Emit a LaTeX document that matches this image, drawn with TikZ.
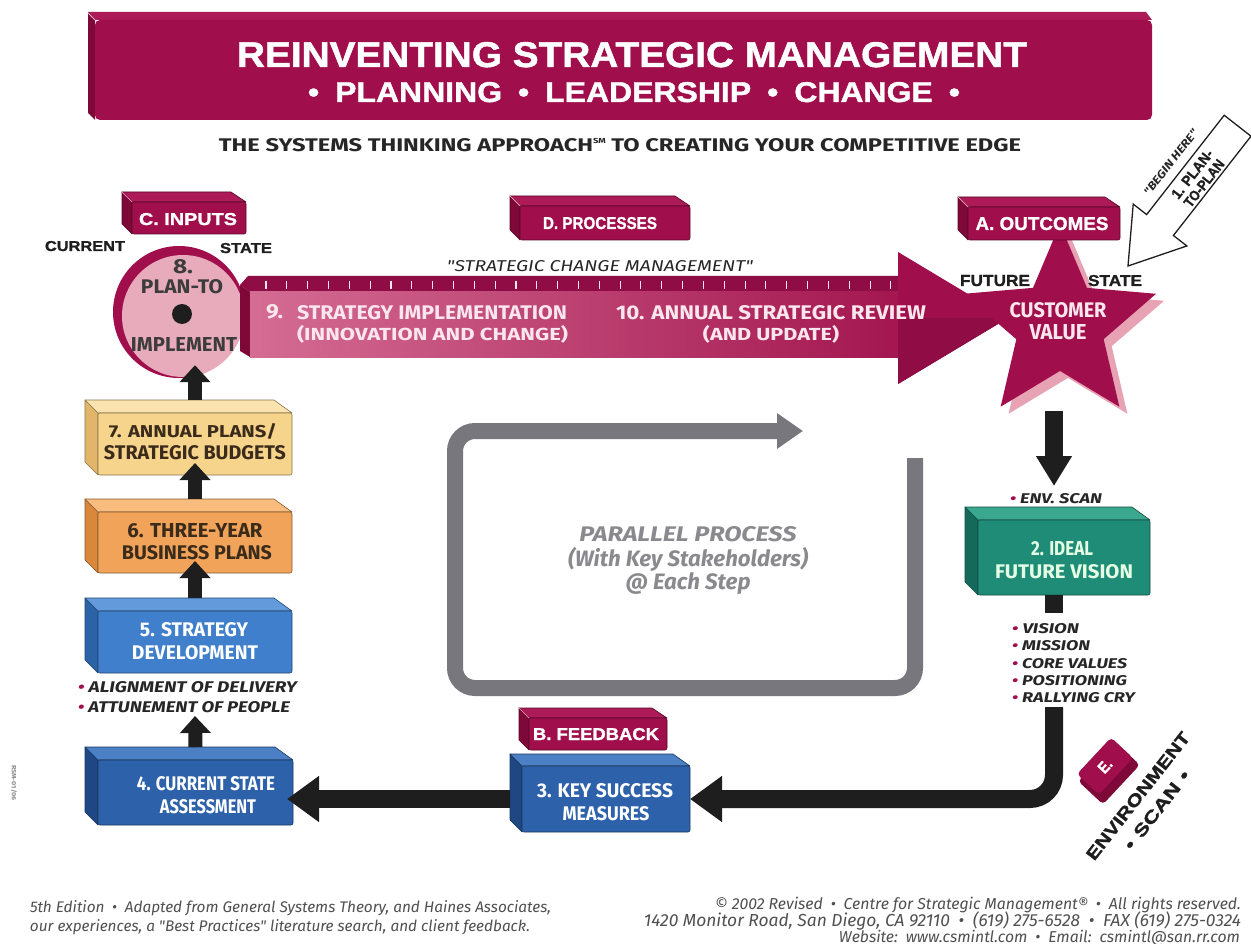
\documentclass[tikz,border=0pt]{standalone}
\usepackage{graphicx}
\usepackage{fontspec}
\setmainfont{Fira Sans}
\newfontfamily\hv{Liberation Sans}[BoldFeatures={FakeBold=1.2}]
\newfontfamily\fira{Fira Sans}
\usetikzlibrary{shapes.geometric,arrows.meta,calc}
\definecolor{mar}{HTML}{A00F4B}
\definecolor{marT}{HTML}{AC1A57}
\definecolor{marD}{HTML}{7E0838}
\definecolor{marS}{HTML}{900C44}
\definecolor{pinkc}{HTML}{E8ABBB}
\definecolor{pinksh}{HTML}{E7A2B3}
\definecolor{arrL}{HTML}{D46C93}
\definecolor{arrR}{HTML}{A3164F}
\definecolor{arrT}{HTML}{FCE6EE}
\definecolor{yel}{HTML}{F7D48C}
\definecolor{yelT}{HTML}{FBE3AF}
\definecolor{yelS}{HTML}{E2B66A}
\definecolor{org}{HTML}{F2A35A}
\definecolor{orgT}{HTML}{F8BD7E}
\definecolor{orgS}{HTML}{D8873B}
\definecolor{blu}{HTML}{3F7FCB}
\definecolor{bluT}{HTML}{629ADB}
\definecolor{bluS}{HTML}{2C62A6}
\definecolor{bld}{HTML}{2D62AA}
\definecolor{bldT}{HTML}{4C80C4}
\definecolor{bldS}{HTML}{1E4784}
\definecolor{tea}{HTML}{1F8C77}
\definecolor{teaT}{HTML}{3AA88F}
\definecolor{teaS}{HTML}{15695A}
\definecolor{blk}{HTML}{1E1E1E}
\definecolor{gry}{HTML}{77777D}
\definecolor{gtxt}{HTML}{8A8A8E}
\definecolor{brn}{HTML}{3B2B1B}
\definecolor{dtx}{HTML}{262626}
\definecolor{ftc}{HTML}{505050}
\newcommand\rs[3]{\resizebox{#1pt}{#2pt}{#3}}
% name, x1, y1, x2, y2, front, top, side, depth
\newcommand\tdbox[9]{%
  \pgfmathsetmacro\bw{#4-#2}%
  \pgfmathsetmacro\bh{#5-#3}%
  \pgfmathsetmacro\bx{(#2+#4)/2}%
  \pgfmathsetmacro\by{(#3+#5)/2}%
  \filldraw[fill=#8,draw=#6!55!black,line width=.6pt,line join=round] (#2,#3) -- ++(-#9,-#9) -- ({#2-#9},{#5-#9}) -- (#2,#5) -- cycle;
  \filldraw[fill=#7,draw=#6!55!black,line width=.6pt,line join=round] (#2,#3) -- ++(-#9,-#9) -- ({#4-#9-5},{#3-#9}) -- (#4,#3) -- cycle;
  \node[fill=#6,draw=#6!55!black,line width=.6pt,rounded corners=2pt,minimum width=\bw pt,minimum height=\bh pt,inner sep=0pt,outer sep=0pt] (#1) at (\bx,\by) {};
}
\begin{document}
\begin{tikzpicture}[x=1pt,y=-1pt,
  lbl/.style={inner sep=0pt,outer sep=0pt,anchor=base},
  lblw/.style={inner sep=0pt,outer sep=0pt,anchor=base west},
  lble/.style={inner sep=0pt,outer sep=0pt,anchor=base east},
  upar/.style={draw=blk,line width=14pt,-{Triangle[width=30pt,length=17pt]}},
  bigar/.style={draw=blk,line width=18pt,-{Triangle[width=44pt,length=32pt]}},
  dnar/.style={draw=blk,line width=18pt,-{Triangle[width=34pt,length=30pt]}},
  starsh/.style={star,star points=5,star point ratio=2.2,minimum size=202pt,inner sep=0pt}]
\useasboundingbox (0,0) rectangle (1251,944);
\fill[white] (0,0) rectangle (1251,944);

% ---------- title bar
\fill[marT] (88,12) -- (1146,12) -- (1152,20) -- (95,20) -- cycle;
\fill[marD] (88,12) -- (95,20) -- (95,120) -- (88,113) -- cycle;
\node[fill=mar,rounded corners=5pt,minimum width=1057pt,minimum height=100pt,inner sep=0pt] (tbar) at (623.5,70) {};
\draw[pinkc,line width=.8pt] (88,13) -- (95,20);
\node[lbl,text=white] (ttl1) at (632,67) {\rs{790}{25}{\hv\bfseries REINVENTING STRATEGIC MANAGEMENT}};
\node[lbl,text=white] (ttl2) at (634,102) {\rs{652}{20}{\hv\bfseries •\hspace{.5em}PLANNING\hspace{.5em}•\hspace{.5em}LEADERSHIP\hspace{.5em}•\hspace{.5em}CHANGE\hspace{.5em}•}};
\node[lbl,text=dtx] (sub) at (620,152) {\rs{802}{13}{\fira\bfseries THE SYSTEMS THINKING APPROACH\smash{\raisebox{.45em}{\fontsize{4}{4}\selectfont SM}} TO CREATING YOUR COMPETITIVE EDGE}};

% ---------- circle 8
\fill[mar] (179,312) circle (66);
\node[circle,fill=pinkc,minimum size=122pt,inner sep=0pt] (c8) at (183,316) {};
\node[circle,fill=blk,minimum size=20pt,inner sep=0pt] (dot) at (182,314) {};
\node[lbl,text=dtx!90] (c8a) at (183,273) {\rs{20}{14}{\fira\bfseries 8.}};
\node[lbl,text=dtx!90] (c8b) at (182,294) {\rs{82}{14}{\fira\bfseries PLAN-TO}};
\node[lbl,text=dtx!90] (c8c) at (184,352) {\rs{106}{14}{\fira\bfseries IMPLEMENT}};

% ---------- label boxes
\tdbox{cin}{132}{202}{246}{234}{mar}{marT}{marD}{10}
\draw[pinkc,line width=.7pt] (122,192) -- (132,202);
\node[lbl,text=white] (cint) at (188,225) {\rs{98}{12}{\hv\bfseries C. INPUTS}};
\node[lbl,text=blk] (cur) at (85,251) {\rs{80}{10}{\hv\bfseries CURRENT}};
\node[lbl,text=blk] (st1) at (246,253) {\rs{52}{10}{\hv\bfseries STATE}};

% ---------- star shadow
\node[starsh,fill=pinksh] (stars) at (1068,332) {};

% ---------- big arrow
\fill[marS] (240,285) -- (248,276) -- (902,276) -- (902,292) -- (250,292) -- cycle;
\fill[marD] (240,285) -- (250,292) -- (250,357) -- (240,351) -- cycle;
\shade[left color=arrL,right color=arrR] (250,292) rectangle (902,357);
\foreach \i in {0,...,30} \draw[arrT,line width=1.1pt] ({266+20.83*\i},281) -- ++(0,8);
\fill[mar] (898,252) -- (1008,318) -- (898,384) -- cycle;
\fill[marS] (898,318) -- (1008,318) -- (898,384) -- cycle;

% ---------- star
\node[starsh,fill=mar] (star) at (1060,325) {};

\tdbox{dpr}{520}{206}{690}{240}{mar}{marT}{marD}{10}
\draw[pinkc,line width=.7pt] (510,196) -- (520,206);
\node[lbl,text=white] (dprt) at (600,229) {\rs{114}{12}{\hv\bfseries D. PROCESSES}};
\tdbox{aout}{968}{207}{1120}{240}{mar}{marT}{marD}{10}
\draw[pinkc,line width=.7pt] (958,197) -- (968,207);
\node[lbl,text=white] (aoutt) at (1042,230) {\rs{133}{13}{\hv\bfseries A. OUTCOMES}};

\node[lbl,text=dtx] (scm) at (600,271) {\rs{306}{11}{\fira\itshape "STRATEGIC CHANGE MANAGEMENT"}};
\node[lblw,text=arrT] (s9a) at (266,319) {\rs{17}{14}{\fira\bfseries 9.}};
\node[lblw,text=arrT] (s9b) at (297,319) {\rs{270}{14}{\fira\bfseries STRATEGY IMPLEMENTATION}};
\node[lblw,text=arrT] (s9c) at (297,341) {\rs{271}{15}{\fira\bfseries (INNOVATION AND CHANGE)}};
\node[lblw,text=arrT] (s10a) at (616,319) {\rs{310}{14}{\fira\bfseries 10. ANNUAL STRATEGIC REVIEW}};
\node[lbl,text=arrT] (s10b) at (771,341) {\rs{136}{15}{\fira\bfseries (AND UPDATE)}};

\node[lbl,text=blk] (fut) at (995,286) {\rs{70}{11}{\hv\bfseries FUTURE}};
\node[lbl,text=blk] (st2) at (1115,286) {\rs{54}{11}{\hv\bfseries STATE}};
\node[lbl,text=arrT] (cv1) at (1058,318) {\rs{97}{15}{\fira\bfseries CUSTOMER}};
\node[lbl,text=arrT] (cv2) at (1058,339) {\rs{57}{15}{\fira\bfseries VALUE}};

% ---------- begin here arrow
\begin{scope}[shift={(1128,266)},rotate=52,transform shape]
  \filldraw[fill=white,draw=blk,line width=1.3pt,line join=miter] (0,0) -- (52,-34) -- (52,-17) -- (178,-17) -- (178,17) -- (52,17) -- (52,34) -- cycle;
  \node[inner sep=0pt,text=dtx] (bh) at (108,-30) {\rs{80}{8}{\fira\bfseries\itshape "BEGIN HERE"}};
  \node[inner sep=0pt,text=blk] (pp1) at (112,-6) {\rs{58}{10}{\hv\bfseries 1. PLAN-}};
  \node[inner sep=0pt,text=blk] (pp2) at (112,9) {\rs{56}{10}{\hv\bfseries TO-PLAN}};
\end{scope}

% ---------- parallel process loop
\coordinate (g0) at (915,458);
\coordinate (g1) at (803,431);
\draw[gry,line width=16pt,rounded corners=20pt,-{Triangle[width=34pt,length=26pt]}] (g0) -- (915,688) -- (455,688) -- (455,431) -- (g1);
\node[lbl,text=gtxt] (pp) at (688,541) {\rs{217}{15}{\fira\bfseries\itshape PARALLEL PROCESS}};
\node[lbl,text=gtxt] (pk) at (688,566) {\resizebox{240pt}{!}{\fira\bfseries\itshape (With Key Stakeholders)}};
\node[lbl,text=gtxt] (pe) at (688,589) {\resizebox{125pt}{!}{\fira\bfseries\itshape @ Each Step}};

% ---------- left column boxes
\tdbox{b7}{98}{413}{292}{475}{yel}{yelT}{yelS}{13}
\node[lbl,text=brn] (b7a) at (193,437) {\rs{168}{14}{\fira\bfseries 7. ANNUAL PLANS/}};
\node[lbl,text=brn] (b7b) at (195,459) {\rs{182}{14}{\fira\bfseries STRATEGIC BUDGETS}};
\tdbox{b6}{98}{512}{292}{573}{org}{orgT}{orgS}{13}
\node[lbl,text=brn] (b6a) at (195,537) {\rs{135}{14}{\fira\bfseries 6. THREE-YEAR}};
\node[lbl,text=brn] (b6b) at (197,559) {\rs{150}{14}{\fira\bfseries BUSINESS PLANS}};
\tdbox{b5}{98}{611}{292}{673}{blu}{bluT}{bluS}{13}
\node[lbl,text=white] (b5a) at (194,636) {\rs{108}{14}{\fira\bfseries 5. STRATEGY}};
\node[lbl,text=white] (b5b) at (195,659) {\rs{126}{14}{\fira\bfseries DEVELOPMENT}};
\node[lblw,text=dtx] (al1) at (78,692) {\rs{219}{11}{\fira\bfseries\itshape\textcolor{mar}{•} ALIGNMENT OF DELIVERY}};
\node[lblw,text=dtx] (al2) at (78,712) {\rs{212}{11}{\fira\bfseries\itshape\textcolor{mar}{•} ATTUNEMENT OF PEOPLE}};
\tdbox{b4}{98}{760}{293}{825}{bld}{bldT}{bldS}{13}
\node[lbl,text=white] (b4a) at (206,790) {\rs{138}{14}{\fira\bfseries 4. CURRENT STATE}};
\node[lbl,text=white] (b4b) at (208,813) {\rs{96}{14}{\fira\bfseries ASSESSMENT}};

\draw[upar] ($(b7.north)+(0,-13)$) -- ($(c8.south -| b7.north)+(0,-12)$);
\draw[upar] ($(b6.north)+(0,-13)$) -- ($(b7.south)+(0,-12)$);
\draw[upar] ($(b5.north)+(0,-13)$) -- ($(b6.south)+(0,-12)$);
\coordinate (alc) at (195,716);
\draw[upar] ($(b4.north)+(0,-13)$) -- (alc);

% ---------- feedback & key success
\tdbox{bfb}{529}{718}{667}{750}{mar}{marT}{marD}{10}
\draw[pinkc,line width=.7pt] (519,708) -- (529,718);
\node[lbl,text=white] (bfbt) at (596,740) {\rs{126}{12}{\hv\bfseries B. FEEDBACK}};
\tdbox{b3}{522}{766}{690}{832}{bld}{bldT}{bldS}{12}
\draw[bigar] ($(b3.west)+(-12,0)$) -- ($(b4.east |- b3.west)+(-6,0)$);
\node[lbl,text=white] (b3a) at (605,797) {\rs{136}{14}{\fira\bfseries 3. KEY SUCCESS}};
\node[lbl,text=white] (b3b) at (606,820) {\rs{87}{14}{\fira\bfseries MEASURES}};

% ---------- ideal future vision
\tdbox{b2}{978}{520}{1150}{595}{tea}{teaT}{teaS}{13}
\node[lbl,text=white!90!green] (b2a) at (1062,555) {\rs{62}{14}{\fira\bfseries 2. IDEAL}};
\node[lbl,text=white!90!green] (b2b) at (1064,578) {\rs{138}{14}{\fira\bfseries FUTURE VISION}};
\coordinate (r0) at (1054,707);
\draw[dnar] ($(star.south -| r0)+(0,40)$) -- ($(b2.north -| r0)+(0,-34)$);
\node[lblw,text=dtx] (env) at (1010,503) {\rs{92}{10}{\fira\bfseries\itshape\textcolor{mar}{•} ENV. SCAN}};
\draw[blk,line width=18pt] (b2.south -| r0) -- ++(0,18);
\node[lblw,text=dtx] (v1) at (1012,633) {\rs{67}{10}{\fira\bfseries\itshape\textcolor{mar}{•} VISION}};
\node[lblw,text=dtx] (v2) at (1012,650) {\rs{78}{10}{\fira\bfseries\itshape\textcolor{mar}{•} MISSION}};
\node[lblw,text=dtx] (v3) at (1012,668) {\rs{115}{10}{\fira\bfseries\itshape\textcolor{mar}{•} CORE VALUES}};
\node[lblw,text=dtx] (v4) at (1012,685) {\rs{115}{10}{\fira\bfseries\itshape\textcolor{mar}{•} POSITIONING}};
\node[lblw,text=dtx] (v5) at (1012,702) {\rs{123}{10}{\fira\bfseries\itshape\textcolor{mar}{•} RALLYING CRY}};
\draw[bigar,rounded corners=24pt] (r0) -- (r0 |- b3.east) -- (b3.east);

% ---------- environment scan
\node[fill=marD,rotate=47,minimum width=54pt,minimum height=34pt,rounded corners=4pt,inner sep=0pt] (eS) at (1109,773) {};
\node[fill=mar,rotate=47,minimum width=50pt,minimum height=30pt,rounded corners=4pt,inner sep=0pt,text=white] (eB) at (1105,766) {\rs{13}{11}{\hv\bfseries E.}};
\node[inner sep=0pt,rotate=52,text=blk] (env1) at (1138,796) {\rs{157}{12}{\hv\bfseries ENVIRONMENT}};
\node[inner sep=0pt,rotate=52,text=blk] (env2) at (1157,810) {\rs{96}{12}{\hv\bfseries •\,\,SCAN\,\,•}};

\node[inner sep=0pt,rotate=-90,text=black!45] (rsm) at (14,783) {\rs{36}{5}{\fira\bfseries RSM-01/06}};

% ---------- footer
\node[lblw,text=ftc] (f1) at (30,912) {\resizebox{521pt}{!}{\fira\itshape 5th Edition\enspace•\enspace Adapted from General Systems Theory, and Haines Associates,}};
\node[lblw,text=ftc] (f2) at (30,931) {\resizebox{500pt}{!}{\fira\itshape our experiences, a "Best Practices" literature search, and client feedback.}};
\node[lble,text=ftc] (f3) at (1241,909) {\resizebox{526pt}{!}{\fira\itshape © 2002 Revised\enspace•\enspace Centre for Strategic Management®\enspace•\enspace All rights reserved.}};
\node[lble,text=ftc] (f4) at (1241,926) {\resizebox{597pt}{!}{\fira\itshape 1420 Monitor Road, San Diego, CA 92110\enspace•\enspace (619) 275-6528\enspace•\enspace FAX (619) 275-0324}};
\node[lble,text=ftc] (f5) at (1240,942) {\resizebox{401pt}{!}{\fira\itshape Website:\enspace www.csmintl.com\enspace•\enspace Email:\enspace csmintl@san.rr.com}};
\end{tikzpicture}
\end{document}
